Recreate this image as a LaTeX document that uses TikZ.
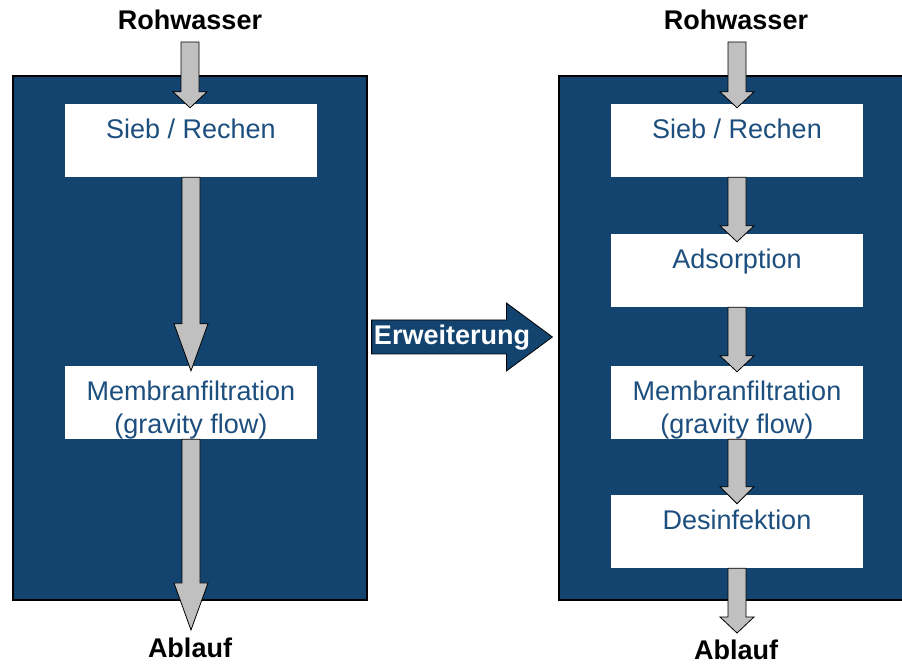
\documentclass[tikz,border=0pt]{standalone}
\usepackage{fontspec}
\setmainfont{Liberation Sans}
\usetikzlibrary{positioning,calc}
\definecolor{panelblue}{RGB}{19,68,112}
\definecolor{textblue}{RGB}{28,78,126}
\definecolor{arrowgray}{RGB}{192,192,192}
\newcommand{\flowarrow}[3]{%
  \draw[flowarr] let \p1=(#1), \p2=(#2) in
    (\x1-9pt,\y1) -- (\x1-9pt,\y2+#3) -- (\x1-17pt,\y2+#3) -- (\x1,\y2)
    -- (\x1+17pt,\y2+#3) -- (\x1+9pt,\y2+#3) -- (\x1+9pt,\y1) -- cycle;}

\begin{document}
\begin{tikzpicture}[x=1pt,y=1pt,
  panel/.style={draw=black,line width=1.2pt,fill=panelblue,minimum width=354pt,minimum height=524pt,inner sep=0pt},
  stage/.style={fill=white,minimum width=252pt,minimum height=73pt,inner sep=0pt},
  stagetext/.style={anchor=north,yshift=-11.6pt,inner sep=0pt,align=center,text=textblue,font=\fontsize{27}{33}\selectfont},
  io/.style={anchor=base,inner sep=0pt,font=\fontsize{27}{33}\selectfont\bfseries},
  flowarr/.style={draw=black,line width=0.8pt,fill=arrowgray},
  erwarr/.style={draw=black,line width=0.8pt,fill=panelblue}]
\clip (0,0) rectangle (902,666);
\node[panel] (lpanel) at (190,328) {};
\node[panel] (rpanel) at (736,328) {};
\node[stage,label={[stagetext]north:{\strut Sieb / Rechen}}] (siebL) at (191,525.5) {};
\node[stage,label={[stagetext]north:{\strut Membranfiltration\\(gravity flow)}}] (membL) at (191,263.5) {};
\node[stage,label={[stagetext]north:{\strut Sieb / Rechen}}] (siebR) at (737,525.5) {};
\node[stage,label={[stagetext]north:{\strut Adsorption}}] (adsR) at (737,395.5) {};
\node[stage,label={[stagetext]north:{\strut Membranfiltration\\(gravity flow)}}] (membR) at (737,263.5) {};
\node[stage,label={[stagetext]north:{\strut Desinfektion}}] (desR) at (737,134.5) {};
\node[io] (rohL) at (190,636) {Rohwasser};
\node[io] (rohR) at (736,636) {Rohwasser};
\node[io] (ablaufL) at (190,8) {Ablauf};
\node[io] (ablaufR) at (736,6) {Ablauf};
\coordinate (inL) at (190,624);
\coordinate (inR) at (737,624);
\coordinate (outL) at (190,36);
\coordinate (outR) at (737,33);
\flowarrow{inL}{$(siebL.north)+(0,-4)$}{16pt}
\flowarrow{siebL.south}{$(membL.north)+(0,-5)$}{47pt}
\flowarrow{membL.south}{outL}{47pt}
\flowarrow{inR}{$(siebR.north)+(0,-4)$}{16pt}
\flowarrow{siebR.south}{$(adsR.north)+(0,-8)$}{16pt}
\flowarrow{adsR.south}{$(membR.north)+(0,-6)$}{16pt}
\flowarrow{membR.south}{$(desR.north)+(0,-9)$}{17pt}
\flowarrow{desR.south}{outR}{16pt}
\draw[erwarr] let \p1=(lpanel.east), \p2=(rpanel.west) in
  (\x1+4pt,\y1-16pt) -- (\x2-52pt,\y1-16pt) -- (\x2-52pt,\y1-33pt) -- (\x2-6pt,\y1+1pt)
  -- (\x2-52pt,\y1+35pt) -- (\x2-52pt,\y1+18pt) -- (\x1+4pt,\y1+18pt) -- cycle;
\node[io,text=white] (erw) at (452,321) {Erweiterung};
\end{tikzpicture}
\end{document}
